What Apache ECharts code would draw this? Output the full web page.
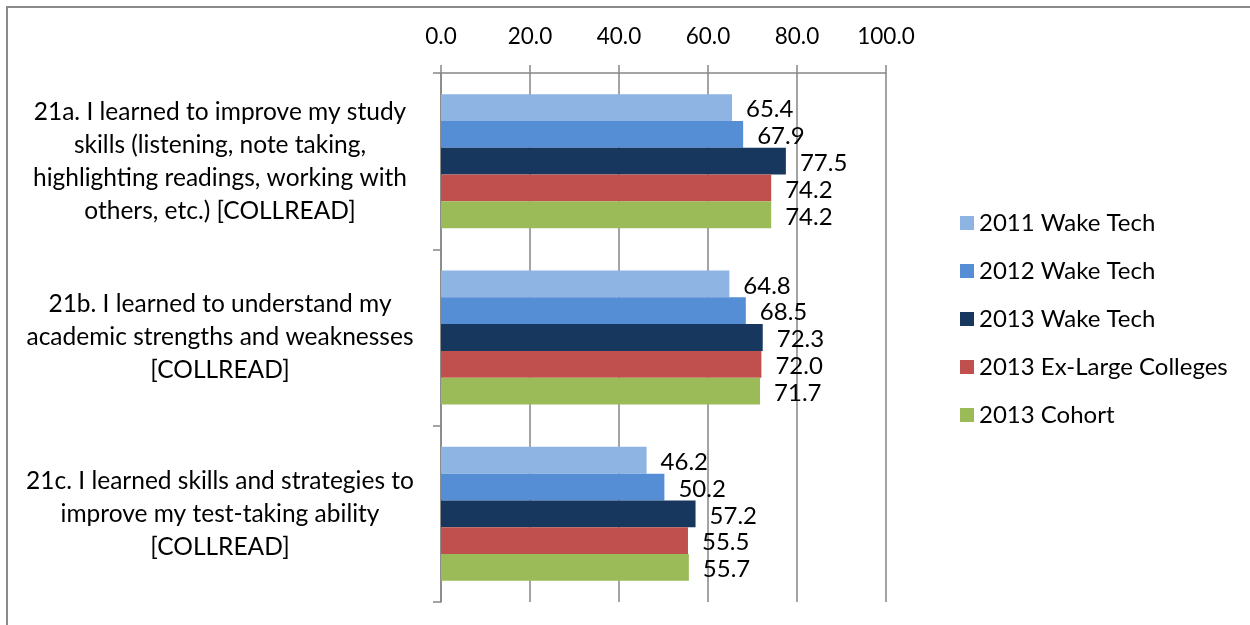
<!DOCTYPE html>
<html>
<head>
<meta charset="utf-8">
<script src="https://cdn.jsdelivr.net/npm/echarts@6/dist/echarts.min.js"></script>
<style>html,body{margin:0;padding:0;background:#fff;}#c{width:1250px;height:625px;}</style>
</head>
<body>
<div id="c"></div>
<script>
const categories = [
  "21a. I learned to improve my study\nskills (listening, note taking,\nhighlighting readings, working with\nothers, etc.) [COLLREAD]",
  "21b. I learned to understand my\nacademic strengths and weaknesses\n[COLLREAD]",
  "21c. I learned skills and strategies to\nimprove my test-taking ability\n[COLLREAD]"
];
const seriesNames = ["2011 Wake Tech", "2012 Wake Tech", "2013 Wake Tech", "2013 Ex-Large Colleges", "2013 Cohort"];
const wake2011 = [65.4, 64.8, 46.2];
const wake2012 = [67.9, 68.5, 50.2];
const wake2013 = [77.5, 72.3, 57.2];
const exLarge2013 = [74.2, 72.0, 55.5];
const cohort2013 = [74.2, 71.7, 55.7];
const xTicks = [0, 20, 40, 60, 80, 100];

const seriesData = [wake2011, wake2012, wake2013, exLarge2013, cohort2013];
const colors = ["#8EB4E3", "#558ED5", "#17375E", "#C0504D", "#9BBB59"];
const FONT = "Lato";

const chart = echarts.init(document.getElementById('c'));
chart.setOption({
  animation: false,
  backgroundColor: '#fff',
  textStyle: { fontFamily: FONT },
  grid: { left: 441, right: 364, top: 73, bottom: 23 },
  graphic: [{
    type: 'rect',
    shape: { x: 7, y: 7, width: 1400, height: 800 },
    style: { fill: 'none', stroke: '#8a8a8a', lineWidth: 2 },
    silent: true, z: -10
  }],
  legend: {
    orient: 'vertical',
    left: 955,
    top: 206,
    itemWidth: 14,
    itemHeight: 14,
    itemGap: 24,
    icon: 'rect',
    textStyle: { fontFamily: FONT, fontSize: 24, color: '#000', lineHeight: 24 },
    data: seriesNames
  },
  xAxis: {
    type: 'value',
    position: 'top',
    min: xTicks[0],
    max: xTicks[xTicks.length - 1],
    interval: xTicks[1] - xTicks[0],
    axisLine: { show: true, lineStyle: { color: '#868686', width: 1.5 } },
    axisTick: { show: true, length: 8, lineStyle: { color: '#868686', width: 1.5 } },
    splitLine: { show: true, lineStyle: { color: '#868686', width: 1.5 } },
    axisLabel: {
      margin: 25, fontFamily: FONT, fontSize: 22.5, color: '#000',
      formatter: v => v.toFixed(1)
    }
  },
  yAxis: {
    type: 'category',
    inverse: true,
    data: categories,
    axisLine: { show: true, lineStyle: { color: '#868686', width: 1.5 } },
    axisTick: { show: true, length: 8, lineStyle: { color: '#868686', width: 1.5 } },
    axisLabel: {
      margin: 221, align: 'center', fontFamily: FONT, fontSize: 24.5,
      lineHeight: 33, color: '#000'
    }
  },
  series: seriesData.map((d, i) => ({
    name: seriesNames[i],
    type: 'bar',
    data: d,
    barGap: '0%',
    barCategoryGap: '24%',
    itemStyle: { color: colors[i] },
    label: {
      show: true, position: 'right', distance: 14, offset: [0, 2],
      fontFamily: FONT, fontSize: 24, color: '#000',
      formatter: p => p.value.toFixed(1)
    }
  }))
});
</script>
</body>
</html>
